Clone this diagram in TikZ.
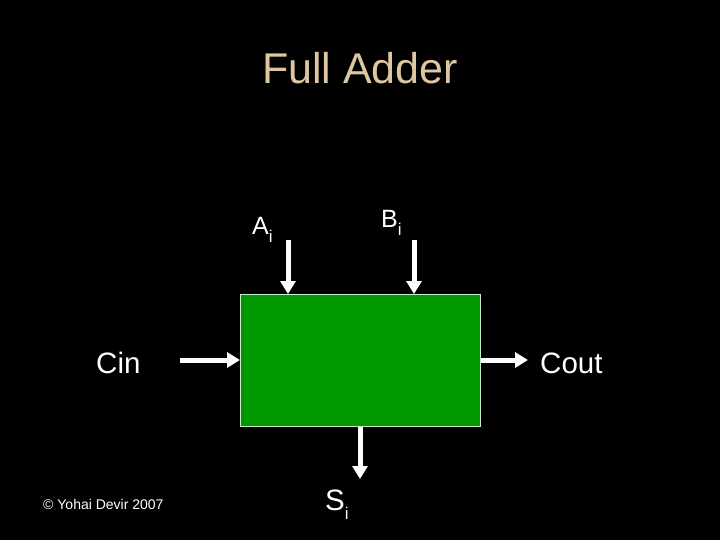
\documentclass[tikz,border=0pt]{standalone}
\usepackage{fontspec}
\setmainfont{Liberation Sans}
\usepackage{xcolor}
\usepackage{tikz}
\usetikzlibrary{arrows.meta, positioning, calc}

\definecolor{titletan}{RGB}{222,199,160}
\definecolor{addergreen}{RGB}{0,153,0}
\definecolor{edgepale}{RGB}{205,232,205}

\tikzset{
    wire/.style={white, line width=5pt, -{Triangle[width=15pt, length=13pt]}},
    pinlabel/.style={text=white, inner sep=0pt, anchor=base west, font=\fontsize{29.5}{31}\selectfont},
    toplabel/.style={pinlabel, font=\fontsize{25}{27}\selectfont}
}

\newcommand{\pinsub}[1]{\raisebox{-0.32em}{\fontsize{17}{19}\selectfont #1}}

\begin{document}
\begin{tikzpicture}[x=1pt, y=-1pt]

    % background, fixes the page
    \fill[black] (0, 0) rectangle (720, 540);

    % title
    \node[text=titletan, font=\fontsize{43}{46}\selectfont] (title) at (360, 68) {Full Adder};

    % adder box
    \node[draw=edgepale, line width=0.8pt, fill=addergreen, minimum width=240pt, minimum height=132pt,
          inner sep=0pt, anchor=north west] (fa) at (240, 294) {};

    % free ends of the wires
    \coordinate (ain) at (288, 240);
    \coordinate (bin) at (414, 240);
    \coordinate (cin) at (180, 360);
    \coordinate (cout) at (528, 360);
    \coordinate (sout) at (360, 479);

    % wires
    \draw[wire] (ain) -- (ain |- fa.north);
    \draw[wire] (bin) -- (bin |- fa.north);
    \draw[wire] (cin) -- (cin -| fa.west);
    \draw[wire] (cout -| fa.east) -- (cout);
    \draw[wire] (sout |- fa.south) -- (sout);

    % labels
    \node[toplabel] (alabel) at (252, 234) {A\pinsub{i}};
    \node[toplabel] (blabel) at (381, 228) {B\pinsub{i}};
    \node[pinlabel] (cinlabel) at (96, 373) {Cin};
    \node[pinlabel] (coutlabel) at (540, 373) {Cout};
    \node[pinlabel] (slabel) at (325, 510) {S\pinsub{i}};

    % credit
    \node[text=white, inner sep=0pt, anchor=base west, font=\fontsize{14}{16}\selectfont] (credit) at (43, 509) {\textcopyright{} Yohai Devir 2007};

\end{tikzpicture}
\end{document}
